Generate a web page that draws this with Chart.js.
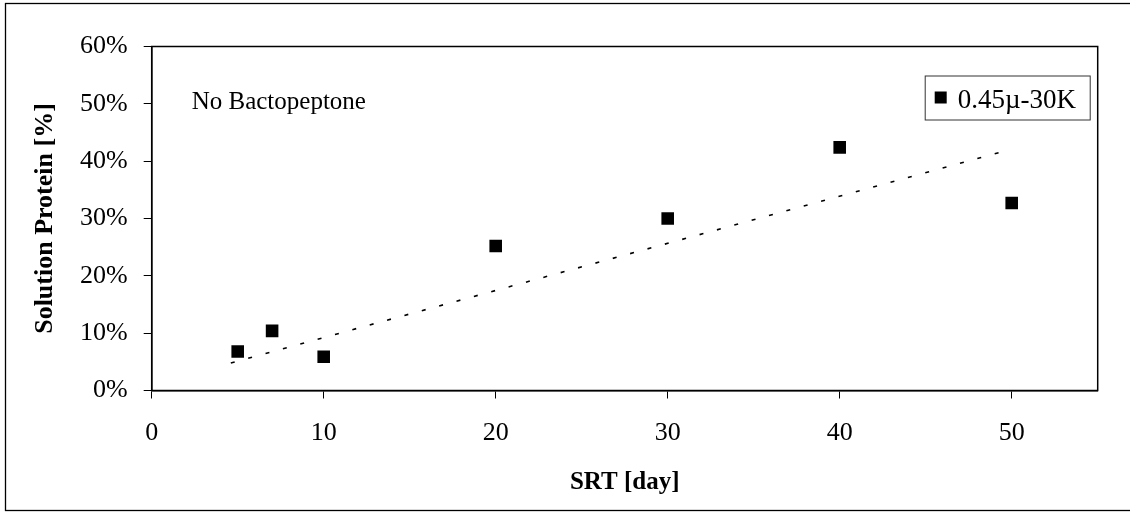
<!DOCTYPE html>
<html>
<head>
<meta charset="utf-8">
<script src="https://cdn.jsdelivr.net/npm/chart.js@4.4.1/dist/chart.umd.min.js"></script>
<style>
  body { margin: 0; background: #fff; }
  canvas { display: block; }
</style>
</head>
<body>
<canvas id="myChart" width="1130" height="512"></canvas>
<script>
// SRT [day] and solution protein [%]
var srtDays = [5, 7, 10, 20, 30, 40, 50];
var proteinPct = [6.8, 10.4, 5.9, 25.2, 30.0, 42.4, 32.7];
var seriesName = "0.45\u00b5-30K";

// dotted trend line, its two ends
var trendDays = [4.6, 50];
var trendPct = [4.8, 42.1];

var xTicks = [0, 10, 20, 30, 40, 50];
var yTicks = [0, 10, 20, 30, 40, 50, 60];

var serif = "'Liberation Serif', 'Times New Roman', serif";

// frame round the whole picture, box round the plot, note and legend
var extras = {
    id: 'extras',
    afterDraw: function(chart) {
        var c = chart.ctx;
        var a = chart.chartArea;
        c.save();
        c.strokeStyle = '#000';
        c.lineWidth = 1.3;
        c.strokeRect(5.5, 3.5, 1130, 507);

        c.lineWidth = 1.5;
        c.strokeRect(a.left, a.top, a.right - a.left, a.bottom - a.top);

        c.fillStyle = '#000';
        c.font = '25px ' + serif;
        c.textBaseline = 'alphabetic';
        c.textAlign = 'left';
        c.fillText('No Bactopeptone', a.left + 40, a.top + 62);

        // legend
        var lx = a.right - 173, ly = a.top + 29;
        c.lineWidth = 1;
        c.strokeStyle = '#333';
        c.strokeRect(lx + 0.5, ly + 0.5, 165, 44);
        c.fillRect(lx + 10, ly + 16, 12, 12);
        c.font = '27px ' + serif;
        c.fillText(chart.data.datasets[0].label, lx + 33, ly + 32);
        c.restore();
    }
};

var ctx = document.getElementById("myChart").getContext('2d');
var myChart = new Chart(ctx, {
    type: 'scatter',
    data: {
        datasets: [{
            label: seriesName,
            data: srtDays.map(function(d, i) { return {x: d, y: proteinPct[i]}; }),
            pointStyle: 'rect',
            pointRadius: 8.9,
            pointHoverRadius: 8.9,
            backgroundColor: '#000',
            borderColor: '#000',
            borderWidth: 0
        }, {
            label: 'trend',
            data: trendDays.map(function(d, i) { return {x: d, y: trendPct[i]}; }),
            showLine: true,
            borderColor: '#000',
            borderWidth: 1.6,
            borderDash: [4, 14],
            pointRadius: 0,
            fill: false
        }]
    },
    options: {
        responsive: false,
        animation: false,
        devicePixelRatio: 1,
        layout: { padding: { left: 0, top: 46.5, right: 32.3, bottom: 0 } },
        plugins: {
            legend: { display: false },
            tooltip: { enabled: false }
        },
        scales: {
            x: {
                type: 'linear',
                min: 0,
                max: 55,
                afterFit: function(s) { s.height = 121.5; },
                afterBuildTicks: function(s) { s.ticks = xTicks.map(function(v) { return {value: v}; }); },
                ticks: {
                    color: '#000',
                    font: { family: serif, size: 26 },
                    padding: 19,
                    maxRotation: 0
                },
                grid: { drawOnChartArea: false, drawTicks: true, tickLength: 8, color: '#000', lineWidth: 1 },
                border: { display: true, color: '#000', width: 1.5 },
                title: {
                    display: true,
                    text: 'SRT [day]',
                    color: '#000',
                    font: { family: serif, size: 25, weight: 'bold' },
                    padding: { top: 0, bottom: 14 }
                }
            },
            y: {
                type: 'linear',
                min: 0,
                max: 60,
                afterFit: function(s) { s.width = 151.7; },
                afterBuildTicks: function(s) { s.ticks = yTicks.map(function(v) { return {value: v}; }); },
                ticks: {
                    color: '#000',
                    font: { family: serif, size: 26 },
                    padding: 16,
                    callback: function(v) { return v + '%'; }
                },
                grid: { drawOnChartArea: false, drawTicks: true, tickLength: 8, color: '#000', lineWidth: 1 },
                border: { display: true, color: '#000', width: 1.5 },
                title: {
                    display: true,
                    text: 'Solution Protein [%]',
                    color: '#000',
                    font: { family: serif, size: 26, weight: 'bold' },
                    padding: { top: 30, bottom: 0 }
                }
            }
        }
    },
    plugins: [extras]
});
</script>
</body>
</html>
